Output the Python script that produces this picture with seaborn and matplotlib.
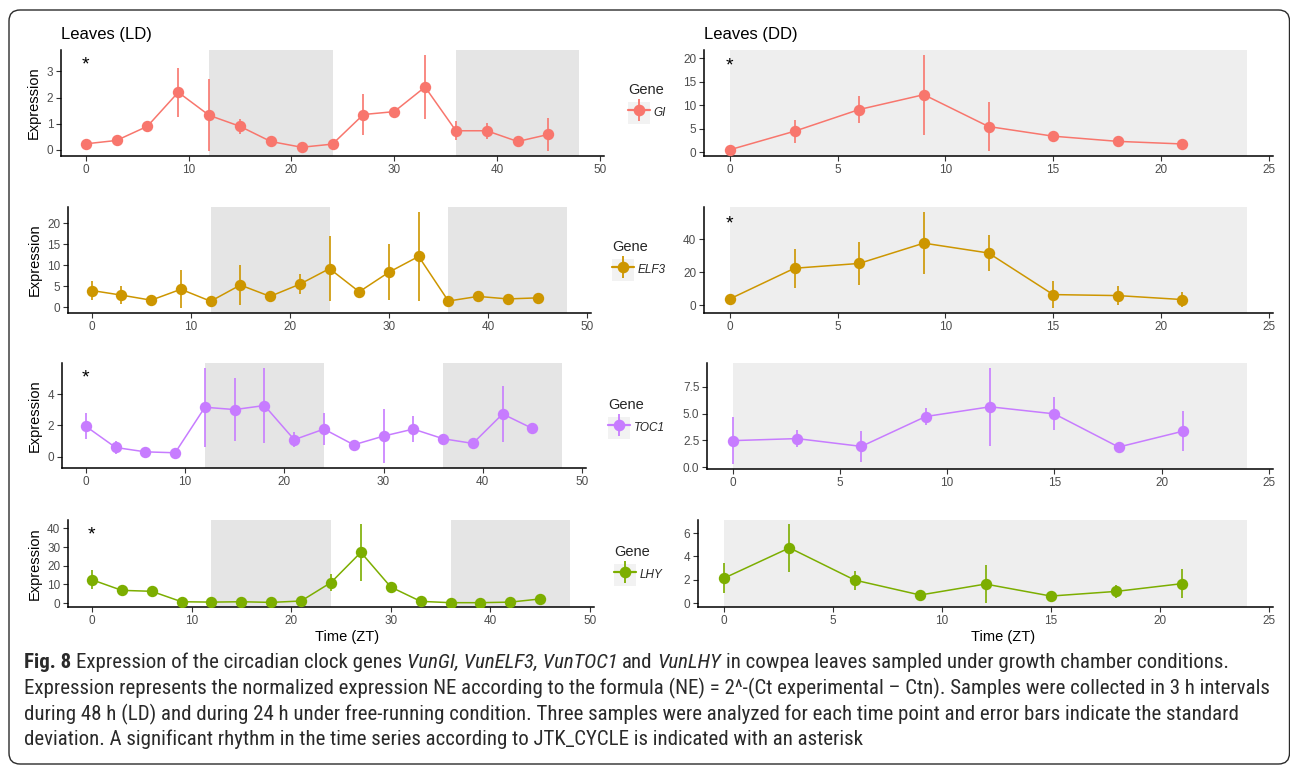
import numpy as np
import pandas as pd
import matplotlib
matplotlib.use('Agg')
import matplotlib.pyplot as plt
import seaborn as sns
from matplotlib.patches import Rectangle, FancyBboxPatch
from matplotlib.lines import Line2D
from matplotlib.legend_handler import HandlerTuple
from matplotlib.transforms import IdentityTransform, offset_copy
from matplotlib.ticker import MultipleLocator, FormatStrFormatter
from matplotlib import font_manager

# ---------------- data ----------------
ZT_LD = [0, 3, 6, 9, 12, 15, 18, 21, 24, 27, 30, 33, 36, 39, 42, 45]
ZT_DD = [0, 3, 6, 9, 12, 15, 18, 21]

GI_LD = [0.23, 0.36, 0.90, 2.20, 1.32, 0.90, 0.32, 0.10, 0.22, 1.35, 1.46, 2.40, 0.73, 0.73, 0.32, 0.59]
GI_LD_SD = [0.05, 0.05, 0.08, 0.93, 1.37, 0.29, 0.19, 0.03, 0.04, 0.77, 0.06, 1.23, 0.37, 0.31, 0.05, 0.63]

ELF3_LD = [4.0, 2.9, 1.7, 4.3, 1.45, 5.3, 2.6, 5.5, 9.2, 3.7, 8.35, 12.1, 1.5, 2.6, 2.0, 2.25]
ELF3_LD_SD = [2.3, 2.1, 0.4, 4.5, 0.5, 4.65, 0.9, 2.4, 7.7, 0.5, 6.6, 10.6, 0.4, 0.6, 0.7, 0.4]

TOC1_LD = [1.94, 0.58, 0.30, 0.24, 3.16, 3.01, 3.27, 1.08, 1.76, 0.75, 1.31, 1.76, 1.14, 0.84, 2.73, 1.80]
TOC1_LD_SD = [0.82, 0.44, 0.08, 0.08, 2.53, 2.03, 2.42, 0.50, 1.05, 0.10, 1.74, 0.83, 0.30, 0.12, 1.80, 0.33]

LHY_LD = [12.5, 6.8, 6.3, 0.7, 0.5, 0.7, 0.35, 1.1, 11.0, 27.2, 8.6, 0.9, 0.2, 0.2, 0.5, 2.2]
LHY_LD_SD = [5.0, 0.7, 1.0, 0.3, 0.3, 0.3, 0.2, 0.4, 4.6, 15.2, 1.0, 0.4, 0.1, 0.2, 0.3, 0.5]

GI_DD = [0.57, 4.5, 9.1, 12.25, 5.5, 3.45, 2.35, 1.8]
GI_DD_SD = [0.3, 2.4, 2.9, 8.45, 5.2, 0.4, 0.4, 0.3]

ELF3_DD = [3.9, 22.4, 25.3, 37.55, 31.6, 6.5, 5.9, 3.5]
ELF3_DD_SD = [1.0, 11.75, 13.1, 18.9, 10.8, 8.2, 5.7, 4.6]

TOC1_DD = [2.47, 2.66, 1.93, 4.72, 5.63, 4.97, 1.87, 3.35]
TOC1_DD_SD = [2.2, 0.8, 1.44, 0.82, 3.64, 1.55, 0.45, 1.88]

LHY_DD = [2.14, 4.74, 1.97, 0.69, 1.63, 0.60, 1.0, 1.66]
LHY_DD_SD = [1.3, 2.05, 0.81, 0.12, 1.63, 0.1, 0.54, 1.26]

GENES = ['GI', 'ELF3', 'TOC1', 'LHY']
GENE_COLORS = ['#F8766D', '#CD9600', '#C77CFF', '#7CAE00']
LD_DARK = [(12, 24), (36, 48)]
DD_DARK = [(0, 24)]
# JTK_CYCLE significance markers (asterisk height, None = not significant)
STAR_LD = [3.38, None, 5.3, 38.5]
STAR_DD = [19.1, 51.6, None, None]

TITLE_LD = 'Leaves (LD)'
TITLE_DD = 'Leaves (DD)'
Y_TITLE = 'Expression'
X_TITLE = 'Time (ZT)'
LEGEND_TITLE = 'Gene'

CAPTION_LINES = [
    [("Fig. 8", 'bold', 'normal'),
     (" Expression of the circadian clock genes ", 'normal', 'normal'),
     ("VunGI, VunELF3, VunTOC1", 'normal', 'italic'),
     (" and ", 'normal', 'normal'),
     ("VunLHY", 'normal', 'italic'),
     (" in cowpea leaves sampled under growth chamber conditions.", 'normal', 'normal')],
    [("Expression represents the normalized expression NE according to the formula (NE) = 2^-(Ct experimental \u2013 Ctn). Samples were collected in 3 h intervals", 'normal', 'normal')],
    [("during 48 h (LD) and during 24 h under free-running condition. Three samples were analyzed for each time point and error bars indicate the standard", 'normal', 'normal')],
    [("deviation. A significant rhythm in the time series according to JTK_CYCLE is indicated with an asterisk", 'normal', 'normal')],
]

# ---------------- layout (pixels) ----------------
W, H = 1290, 766
LAYOUT = {
    ('GI', 'LD'): (61, 50, 604, 156),
    ('ELF3', 'LD'): (68, 207, 591, 313),
    ('TOC1', 'LD'): (62, 363, 586, 468),
    ('LHY', 'LD'): (68, 520, 594, 607),
    ('GI', 'DD'): (704, 50, 1273, 156),
    ('ELF3', 'DD'): (704, 207, 1273, 313),
    ('TOC1', 'DD'): (707, 363, 1273, 469),
    ('LHY', 'DD'): (698, 520, 1273, 607),
}
YSTEP = {('GI', 'LD'): 1, ('ELF3', 'LD'): 5, ('TOC1', 'LD'): 2, ('LHY', 'LD'): 10,
         ('GI', 'DD'): 5, ('ELF3', 'DD'): 20, ('TOC1', 'DD'): 2.5, ('LHY', 'DD'): 2}
LEGEND_POS = {'GI': (628, 89), 'ELF3': (612, 246), 'TOC1': (608, 404), 'LHY': (614, 551)}

sns.set_theme(style='white')
plt.rcParams['font.family'] = ['Liberation Sans', 'DejaVu Sans']

fig = plt.figure(figsize=(W / 100, H / 100), dpi=100)
fig.patch.set_facecolor('white')


def px_rect(l, t, r, b):
    return [l / W, 1 - b / H, (r - l) / W, (b - t) / H]


def draw_panel(key, zt, vals, sd, color, dark, dark_color, xlim, xstep, star, xlabel):
    ax = fig.add_axes(px_rect(*LAYOUT[key]))
    ax.set_facecolor('white')
    for a0, a1 in dark:
        ax.axvspan(a0, a1, color=dark_color, lw=0, zorder=0)
    v = np.array(vals)
    s = np.array(sd)
    ax.errorbar(zt, v, yerr=s, fmt='none', ecolor=color, elinewidth=1.2,
                capsize=0, zorder=2)
    df = pd.DataFrame({'ZT': zt, 'Expression': v})
    sns.lineplot(data=df, x='ZT', y='Expression', ax=ax, color=color, lw=1.1,
                 marker='o', markersize=8.2, markeredgewidth=0, errorbar=None,
                 zorder=3)
    lo, hi = (v - s).min(), (v + s).max()
    pad = 0.05 * (hi - lo)
    ax.set_ylim(lo - pad, hi + pad)
    ax.set_xlim(*xlim)
    ax.xaxis.set_major_locator(MultipleLocator(xstep))
    ystep = YSTEP[key]
    ax.yaxis.set_major_locator(MultipleLocator(ystep))
    if ystep == 2.5:
        ax.yaxis.set_major_formatter(FormatStrFormatter('%.1f'))
    for sp in ['top', 'right']:
        ax.spines[sp].set_visible(False)
    for sp in ['left', 'bottom']:
        ax.spines[sp].set_color('black')
        ax.spines[sp].set_linewidth(1.1)
    ax.tick_params(axis='both', length=3.5, width=0.8, color='#333333',
                   labelcolor='#4D4D4D', labelsize=8.5, pad=2,
                   bottom=True, left=True)
    ax.grid(False)
    if key[1] == 'LD':
        ax.set_ylabel(Y_TITLE, fontsize=10.5, color='black', labelpad=4)
    else:
        ax.set_ylabel('')
    if xlabel:
        ax.set_xlabel(X_TITLE, fontsize=10.5, color='black', labelpad=4)
        ax.xaxis.set_label_coords(0.53, -0.27)
    else:
        ax.set_xlabel('')
    if star is not None:
        tr = offset_copy(ax.transData, fig=fig, x=0, y=-4, units='dots')
        ax.text(0, star, '*', ha='center', va='center', fontsize=14,
                color='black', zorder=4, transform=tr)
    return ax


ld_data = [(GI_LD, GI_LD_SD), (ELF3_LD, ELF3_LD_SD), (TOC1_LD, TOC1_LD_SD), (LHY_LD, LHY_LD_SD)]
dd_data = [(GI_DD, GI_DD_SD), (ELF3_DD, ELF3_DD_SD), (TOC1_DD, TOC1_DD_SD), (LHY_DD, LHY_DD_SD)]

for i, g in enumerate(GENES):
    last = (i == len(GENES) - 1)
    draw_panel((g, 'LD'), ZT_LD, ld_data[i][0], ld_data[i][1], GENE_COLORS[i],
               LD_DARK, '#E5E5E5', (-2.4, 50.4), 10, STAR_LD[i], last)
    draw_panel((g, 'DD'), ZT_DD, dd_data[i][0], dd_data[i][1], GENE_COLORS[i],
               DD_DARK, '#EEEEEE', (-1.2, 25.2), 5, STAR_DD[i], last)

# titles
fig.text(LAYOUT[('GI', 'LD')][0] / W, 1 - 34 / H, TITLE_LD, fontsize=12,
         ha='left', va='center', color='black')
fig.text(LAYOUT[('GI', 'DD')][0] / W, 1 - 34 / H, TITLE_DD, fontsize=12,
         ha='left', va='center', color='black')

# legends
LEG_FS = 8.5
KEY_PX = 22
fs_px = LEG_FS * 100 / 72
legends = []
for i, g in enumerate(GENES):
    c = GENE_COLORS[i]
    h1 = Line2D([], [], color=c, lw=1.6, marker='o', markersize=8.4, markeredgewidth=0)
    h2 = Line2D([], [], color=c, lw=0, marker='|', markersize=KEY_PX / 1.389,
                markeredgewidth=1.3)
    tx, ty = LEGEND_POS[g]
    leg = fig.legend(handles=[(h1, h2)], labels=[g], title=LEGEND_TITLE,
                     handler_map={tuple: HandlerTuple(ndivide=1, pad=0)},
                     loc='upper left', bbox_to_anchor=(tx / W, 1 - (ty - 6) / H),
                     frameon=False, prop={'style': 'italic', 'size': LEG_FS},
                     title_fontsize=10.5, alignment='left',
                     handlelength=KEY_PX / fs_px, handletextpad=0.3,
                     borderpad=0, borderaxespad=0, labelspacing=0.6,
                     handleheight=KEY_PX / fs_px)
    legends.append(leg)

fig.canvas.draw()
renderer = fig.canvas.get_renderer()
for leg in legends:
    tb = leg.get_texts()[0].get_window_extent(renderer)
    x1 = tb.x0 - 0.3 * fs_px
    x0 = x1 - KEY_PX
    cy = (tb.y0 + tb.y1) / 2
    rect = Rectangle((x0, cy - KEY_PX / 2), KEY_PX, KEY_PX, facecolor='#F2F2F2',
                     edgecolor='none', transform=IdentityTransform(), zorder=1)
    fig.add_artist(rect)

# outer frame
frame = FancyBboxPatch((9, 2), 1280.5, 754, boxstyle='round,pad=0,rounding_size=11',
                       facecolor='none', edgecolor='#2b2b2b', lw=1.0,
                       transform=IdentityTransform(), zorder=0)
fig.add_artist(frame)

# caption
names = {f.name for f in font_manager.fontManager.ttflist}
cap_family = next((n for n in ['Roboto Condensed', 'Open Sans Condensed',
                               'Liberation Sans Narrow', 'DejaVu Sans']
                   if n in names), 'DejaVu Sans')


def text_width(s, size, weight='normal', style='normal'):
    t = fig.text(0, 0, s, fontsize=size, fontweight=weight, fontstyle=style,
                 family=[cap_family, 'DejaVu Sans'])
    w = t.get_window_extent(renderer).width
    t.remove()
    return w


base = 14
w2 = text_width(CAPTION_LINES[1][0][0], base)
cap_size = base * 1258 / w2
space_w = text_width('a a', cap_size) - text_width('aa', cap_size)

CAP_Y = [662, 688, 714, 739]
for line, ypx in zip(CAPTION_LINES, CAP_Y):
    x = 24
    for txt, weight, style in line:
        lead = len(txt) - len(txt.lstrip(' '))
        trail = len(txt) - len(txt.rstrip(' '))
        core = txt.strip(' ')
        x += lead * space_w
        t = fig.text(x / W, 1 - ypx / H, core, fontsize=cap_size, fontweight=weight,
                     fontstyle=style, family=[cap_family, 'DejaVu Sans'],
                     ha='left', va='center', color='#2a2a2a')
        x += t.get_window_extent(renderer).width + trail * space_w

fig.savefig('out.png', dpi=100, facecolor='white')
